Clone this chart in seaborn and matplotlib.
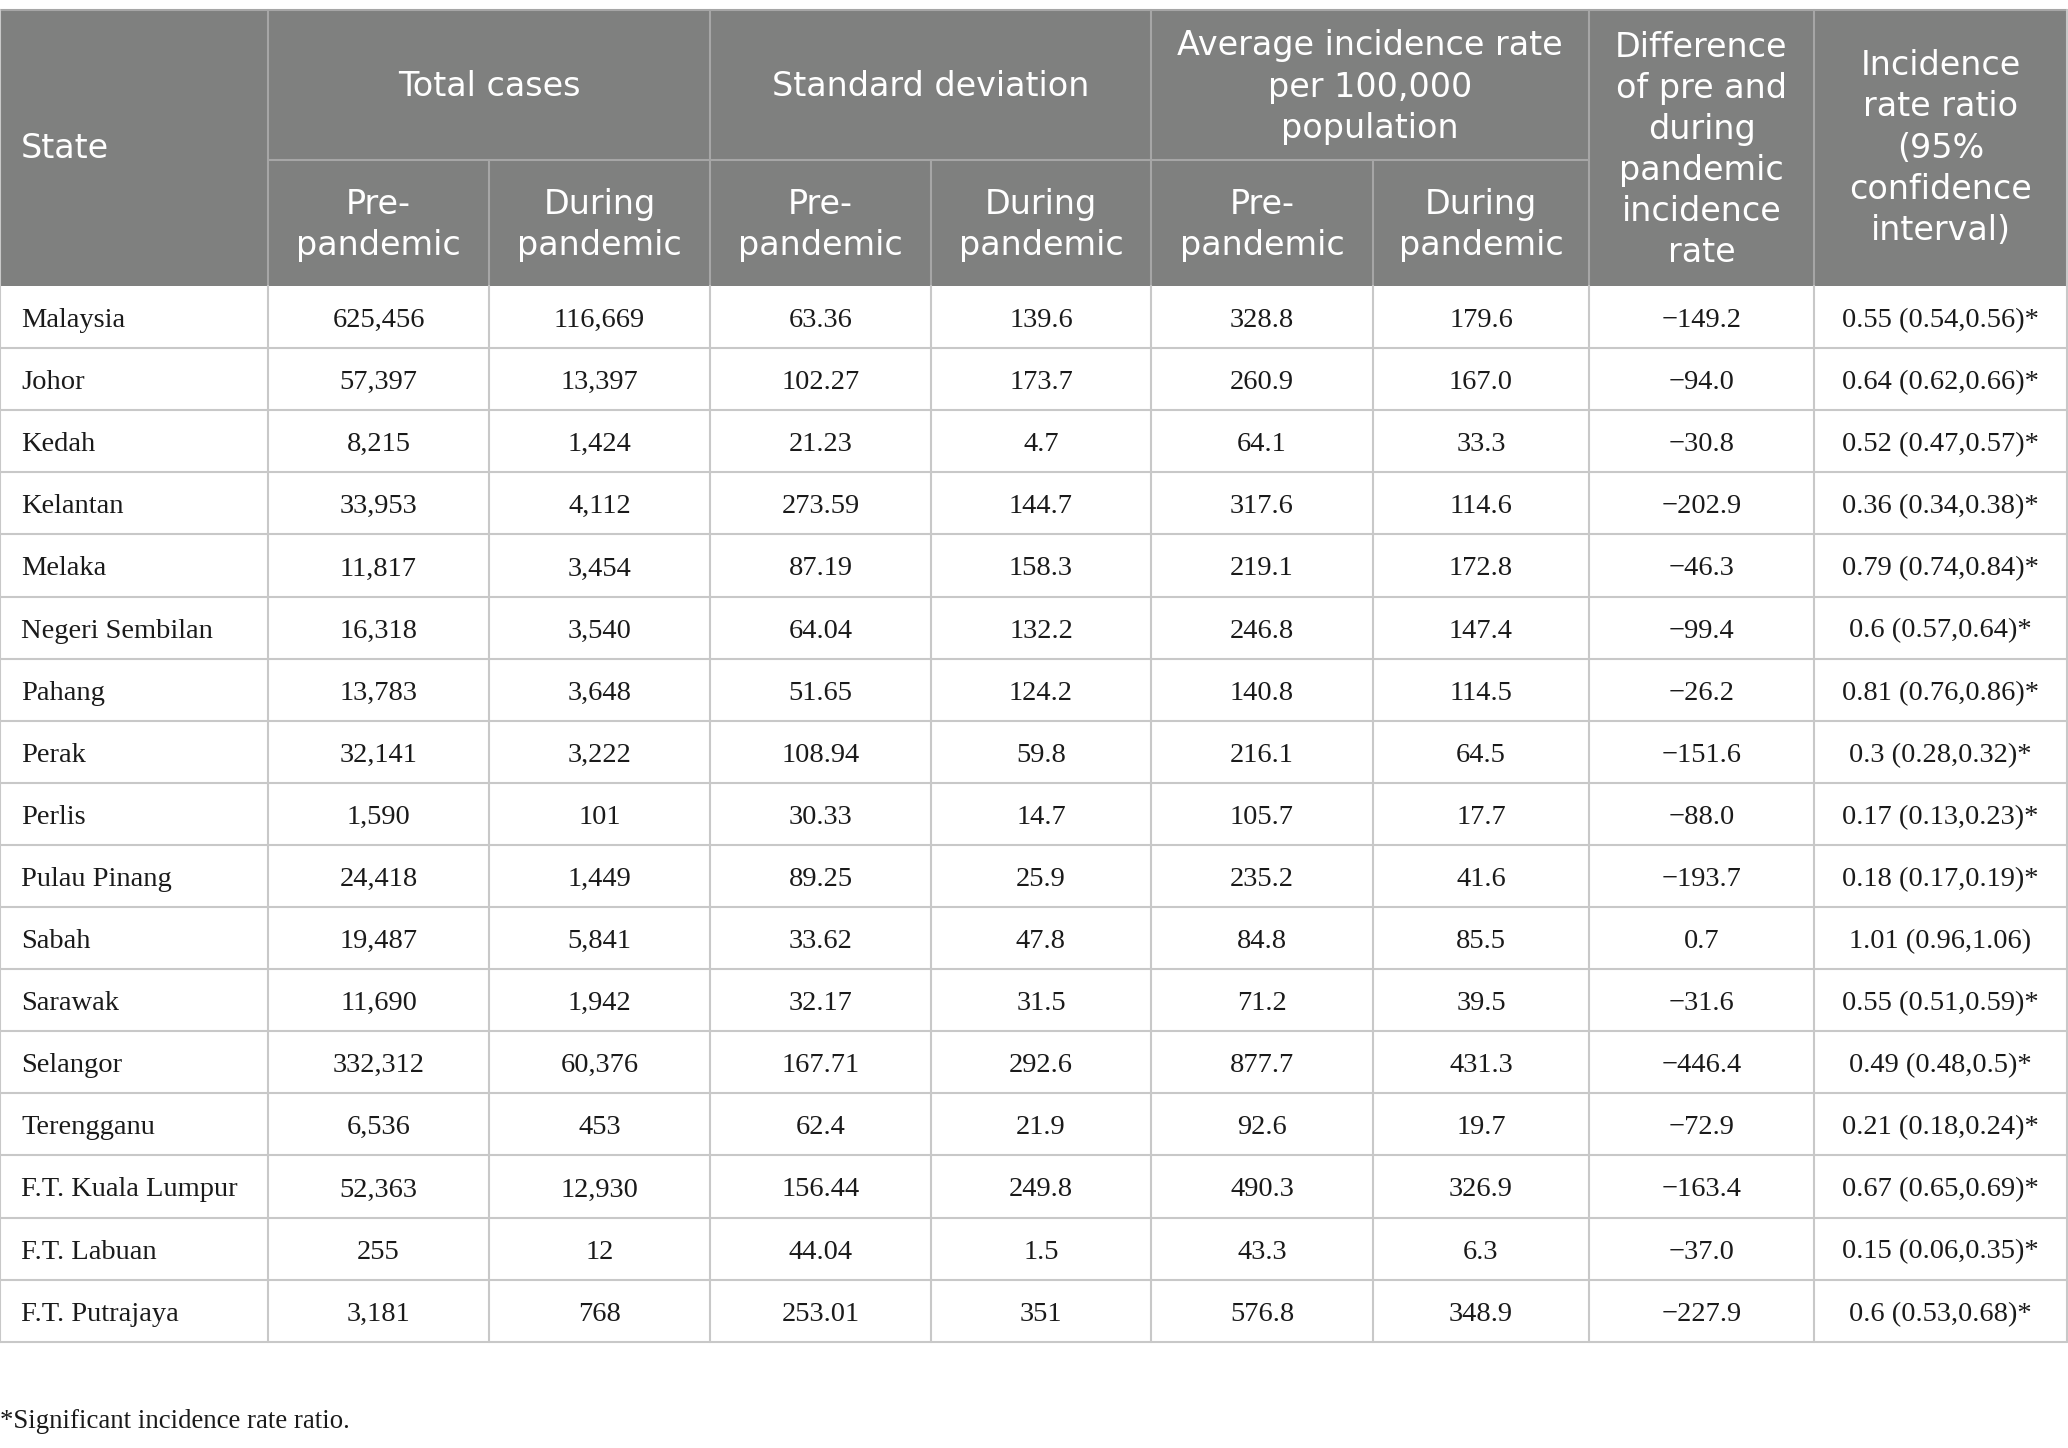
import matplotlib
matplotlib.use("Agg")
import matplotlib.pyplot as plt
import seaborn as sns

# dati della tabella
states = ["Malaysia", "Johor", "Kedah", "Kelantan", "Melaka", "Negeri Sembilan",
          "Pahang", "Perak", "Perlis", "Pulau Pinang", "Sabah", "Sarawak",
          "Selangor", "Terengganu", "F.T. Kuala Lumpur", "F.T. Labuan", "F.T. Putrajaya"]
total_pre = ["625,456", "57,397", "8,215", "33,953", "11,817", "16,318", "13,783", "32,141",
             "1,590", "24,418", "19,487", "11,690", "332,312", "6,536", "52,363", "255", "3,181"]
total_during = ["116,669", "13,397", "1,424", "4,112", "3,454", "3,540", "3,648", "3,222",
                "101", "1,449", "5,841", "1,942", "60,376", "453", "12,930", "12", "768"]
sd_pre = ["63.36", "102.27", "21.23", "273.59", "87.19", "64.04", "51.65", "108.94",
          "30.33", "89.25", "33.62", "32.17", "167.71", "62.4", "156.44", "44.04", "253.01"]
sd_during = ["139.6", "173.7", "4.7", "144.7", "158.3", "132.2", "124.2", "59.8",
             "14.7", "25.9", "47.8", "31.5", "292.6", "21.9", "249.8", "1.5", "351"]
ir_pre = ["328.8", "260.9", "64.1", "317.6", "219.1", "246.8", "140.8", "216.1",
          "105.7", "235.2", "84.8", "71.2", "877.7", "92.6", "490.3", "43.3", "576.8"]
ir_during = ["179.6", "167.0", "33.3", "114.6", "172.8", "147.4", "114.5", "64.5",
             "17.7", "41.6", "85.5", "39.5", "431.3", "19.7", "326.9", "6.3", "348.9"]
ir_diff = ["\u2212149.2", "\u221294.0", "\u221230.8", "\u2212202.9", "\u221246.3", "\u221299.4",
           "\u221226.2", "\u2212151.6", "\u221288.0", "\u2212193.7", "0.7", "\u221231.6",
           "\u2212446.4", "\u221272.9", "\u2212163.4", "\u221237.0", "\u2212227.9"]
irr = ["0.55 (0.54,0.56)*", "0.64 (0.62,0.66)*", "0.52 (0.47,0.57)*", "0.36 (0.34,0.38)*",
       "0.79 (0.74,0.84)*", "0.6 (0.57,0.64)*", "0.81 (0.76,0.86)*", "0.3 (0.28,0.32)*",
       "0.17 (0.13,0.23)*", "0.18 (0.17,0.19)*", "1.01 (0.96,1.06)", "0.55 (0.51,0.59)*",
       "0.49 (0.48,0.5)*", "0.21 (0.18,0.24)*", "0.67 (0.65,0.69)*", "0.15 (0.06,0.35)*",
       "0.6 (0.53,0.68)*"]

group_labels = ["Total cases", "Standard deviation", "Average incidence rate\nper 100,000\npopulation"]
sub_labels = ["Pre-\npandemic", "During\npandemic"]
diff_label = "Difference\nof pre and\nduring\npandemic\nincidence\nrate"
irr_label = "Incidence\nrate ratio\n(95%\nconfidence\ninterval)"
footnote = "*Significant incidence rate ratio."

columns = [states, total_pre, total_during, sd_pre, sd_during, ir_pre, ir_during, ir_diff, irr]

# layout (pixel)
W, H = 2068, 1448
col_x = [0, 268, 489, 710, 931, 1151, 1373, 1589, 1814, 2067]
top, mid, head_bot, row_h = 10, 160, 286, 62.1

sns.set_theme(style="white")
plt.rcParams["font.family"] = ["DejaVu Sans"]

fig = plt.figure(figsize=(W / 100, H / 100), dpi=100)
ax = fig.add_axes([0, 0, 1, 1])
ax.set_xlim(0, W)
ax.set_ylim(H, 0)
ax.axis("off")

head_col = "#7f807f"
head_line = "#a6a6a6"
body_line = "#c8c8c8"
hfont = dict(family=["DejaVu Sans"], fontsize=24, color="white", linespacing=1.31)
bfont = dict(family=["Liberation Serif", "DejaVu Serif"], fontsize=20.5, color="#1a1a1a")

# header
ax.add_patch(plt.Rectangle((0, top), col_x[-1], head_bot - top, color=head_col, lw=0))
ax.text(21, (top + head_bot) / 2, "State", ha="left", va="center", **hfont)
for g, lab in enumerate(group_labels):
    x0, x1 = col_x[1 + 2 * g], col_x[3 + 2 * g]
    ax.text((x0 + x1) / 2, (top + mid) / 2 + 2, lab, ha="center", va="center", **hfont)
    for k in range(2):
        a, b = col_x[1 + 2 * g + k], col_x[2 + 2 * g + k]
        ax.text((a + b) / 2, (mid + head_bot) / 2 + 2, sub_labels[k], ha="center", va="center", **hfont)
ax.text((col_x[7] + col_x[8]) / 2, (top + head_bot) / 2 + 2, diff_label, ha="center", va="center", **hfont)
ax.text((col_x[8] + col_x[9]) / 2, (top + head_bot) / 2, irr_label, ha="center", va="center", **hfont)

# linee header
ax.plot([col_x[1], col_x[7]], [mid, mid], color=head_line, lw=1.5)
for i, x in enumerate(col_x[1:-1], start=1):
    if i in (2, 4, 6):
        ax.plot([x, x], [mid, head_bot], color=head_line, lw=1.5)
    else:
        ax.plot([x, x], [top, head_bot], color=head_line, lw=1.5)
ax.plot([0, col_x[-1]], [top, top], color=head_line, lw=1.5)

# corpo
n = len(states)
bottom = head_bot + n * row_h
for r in range(n):
    yb = head_bot + (r + 0.5) * row_h + 10
    for c, vals in enumerate(columns):
        if c == 0:
            ax.text(21, yb, vals[r], ha="left", va="baseline", **bfont)
        else:
            ax.text((col_x[c] + col_x[c + 1]) / 2, yb, vals[r], ha="center", va="baseline", **bfont)
    ax.plot([0, col_x[-1]], [head_bot + (r + 1) * row_h] * 2, color=body_line, lw=1.5)
for x in col_x:
    ax.plot([x, x], [head_bot, bottom], color=body_line, lw=1.5)
ax.plot([0, 0], [top, head_bot], color=body_line, lw=1.5)
ax.plot([col_x[-1]] * 2, [top, head_bot], color=body_line, lw=1.5)

ax.text(0, 1428, footnote, ha="left", va="baseline", **dict(bfont, fontsize=19.3))

fig.savefig("out.png", dpi=100)
